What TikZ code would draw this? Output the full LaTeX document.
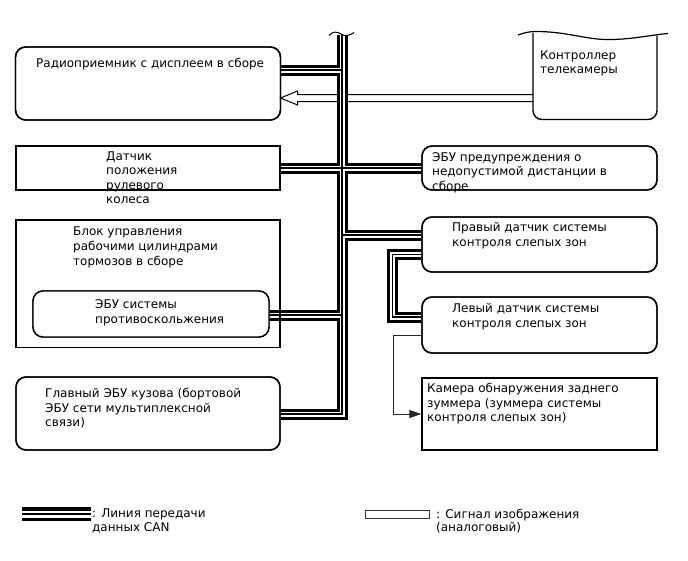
\documentclass[tikz,border=0pt]{standalone}
\usepackage{fontspec}
\setmainfont{DejaVu Sans}
\usetikzlibrary{arrows.meta,calc}
\begin{document}
\begin{tikzpicture}[x=1pt,y=-1pt,
  rbox/.style={draw=black, line width=1.4pt, rounded corners=10pt, inner sep=0pt},
  sbox/.style={draw=black, line width=1.4pt, inner sep=0pt},
  txt/.style={anchor=north west, inner sep=0pt, align=left, font=\fontsize{12}{14.6}\selectfont},
  lgtxt/.style={anchor=north west, inner sep=0pt, align=left, font=\fontsize{12}{13.6}\selectfont},
  thin/.style={draw=black!85, line width=1pt},
  sig/.style={draw=black, line width=1pt, fill=white, line join=miter}
]
\useasboundingbox (0,0) rectangle (688,560);

% ---- boxes (nodes, drawn later) ----
\path
  node[rbox, minimum width=265pt, minimum height=73pt] (radio) at (148,83.5) {}
  node[sbox, minimum width=264pt, minimum height=44pt] (steer) at (148,168) {}
  node[sbox, minimum width=264pt, minimum height=127.5pt] (brake) at (148,283.75) {}
  node[rbox, minimum width=236pt, minimum height=46pt] (abs) at (151,314) {}
  node[rbox, minimum width=264pt, minimum height=73pt] (body) at (148,413.5) {}
  node[rbox, minimum width=235pt, minimum height=44pt] (dist) at (539.5,168) {}
  node[rbox, minimum width=235pt, minimum height=55pt] (rsens) at (539.5,244.5) {}
  node[rbox, minimum width=235pt, minimum height=56pt] (lsens) at (539.5,325) {}
  node[sbox, minimum width=235pt, minimum height=72pt] (cam) at (539.5,414) {};

% ---- coordinates ----
\coordinate (bustop) at (342,35);
\coordinate (busbot) at (342,414);
\coordinate (j1) at (342,70);
\coordinate (j4) at (342,235);
\coordinate (j5) at (342,315);
\coordinate (p1) at (392.5,254.5);
\coordinate (p2) at (392.5,317);
\coordinate (t1) at (393,335);
\coordinate (t2) at (393,414);
\coordinate (sigS) at (533,98);
\coordinate (sigE) at (280.5,98);
\coordinate (lgA) at (22,514);
\coordinate (lgB) at (91,514);
\coordinate (lsA) at (365,514.5);
\coordinate (lsB) at (429,514.5);

% ---- image signal arrow (under the bus) ----
\draw[sig] ($(sigS)+(0,-3.5)$) -- ($(sigE)+(17,-3.5)$) -- ($(sigE)+(17,-7)$) -- (sigE)
  -- ($(sigE)+(17,7)$) -- ($(sigE)+(17,3.5)$) -- ($(sigS)+(0,3.5)$);

% ---- CAN lines ----
\foreach \w/\c in {11/black, 5/white, 1.5/black} {
  \draw[line width=\w pt, draw=\c, line join=miter, line cap=butt]
    (bustop) -- (busbot) -- (body.east |- busbot);
  \draw[line width=\w pt, draw=\c, line cap=butt] (j1) -- (radio.east |- j1);
  \draw[line width=\w pt, draw=\c, line cap=butt] (steer.east) -- (dist.west);
  \draw[line width=\w pt, draw=\c, line cap=butt, line join=miter] (j4) -- (rsens.west |- j4);
  \draw[line width=\w pt, draw=\c, line cap=butt] (j5) -- (abs.east |- j5);
  \draw[line width=\w pt, draw=\c, line cap=butt, line join=miter]
    (rsens.west |- p1) -- (p1) -- (p2) -- (lsens.west |- p2);
}
% break mark on top of bus
\draw[line width=1pt] (329,35.5) .. controls (333,31) and (337,31.5) .. (341,34)
  .. controls (345,36.5) and (349,36) .. (354,32.5);

% ---- boxes drawn on top ----
\path
  node[rbox, minimum width=265pt, minimum height=73pt] at (radio) {}
  node[sbox, minimum width=264pt, minimum height=44pt] at (steer) {}
  node[sbox, minimum width=264pt, minimum height=127.5pt] at (brake) {}
  node[rbox, minimum width=236pt, minimum height=46pt, fill=white] at (abs) {}
  node[rbox, minimum width=264pt, minimum height=73pt] at (body) {}
  node[rbox, minimum width=235pt, minimum height=44pt] at (dist) {}
  node[rbox, minimum width=235pt, minimum height=55pt] at (rsens) {}
  node[rbox, minimum width=235pt, minimum height=56pt] at (lsens) {}
  node[sbox, minimum width=235pt, minimum height=72pt] at (cam) {};

% controller with wavy top
\draw[line width=1.4pt, rounded corners=9pt] (533,32.5) -- (533,119.5) -- (657,119.5) -- (657,35.5);
\draw[line width=1.2pt] (518,35) .. controls (524,33) and (528,31.5) .. (536,31.5)
  .. controls (565,31.5) and (585,39) .. (605,39.5)
  .. controls (630,40) and (650,35) .. (668,33.5);

% thin arrow to camera
\draw[thin, -{Triangle[length=12pt,width=8pt]}] (lsens.west |- t1) -- (t1) -- (t2) -- (cam.west |- t2);

% ---- texts ----
\node[txt] (radiotxt) at (36,57.6) {Радиоприемник с дисплеем в сборе};
\node[txt] (steertxt) at (106,151.1) {Датчик\\положения\\рулевого\\колеса};
\node[txt] (braketxt) at (73,226.9) {Блок управления\\рабочими цилиндрами\\тормозов в сборе};
\node[txt] (abstxt) at (95,299.6) {ЭБУ системы\\противоскольжения};
\node[txt] (bodytxt) at (45,387.9) {Главный ЭБУ кузова (бортовой\\ЭБУ сети мультиплексной\\связи)};
\node[txt] (ctrltxt) at (540,50.1) {Контроллер\\телекамеры};
\node[txt] (disttxt) at (432,152.2) {ЭБУ предупреждения о\\недопустимой дистанции в\\сборе};
\node[txt] (rtxt) at (452,222.2) {Правый датчик системы\\контроля слепых зон};
\node[txt] (ltxt) at (452,303.2) {Левый датчик системы\\контроля слепых зон};
\node[txt] (camtxt) at (427,383.2) {Камера обнаружения заднего\\зуммера (зуммера системы\\контроля слепых зон)};

% ---- legend ----
\foreach \w/\c in {14/black, 7/white, 2.5/black} {
  \draw[line width=\w pt, draw=\c, line cap=butt] (lgA) -- (lgB);
}
\draw[draw=black!80, line width=1pt] ($(lsA)+(0,-4)$) rectangle ($(lsB)+(0,4)$);
\node[lgtxt] (lg1txt) at (92,508.6) {: Линия передачи\\данных CAN};
\node[lgtxt] (lg2txt) at (436,508.6) {: Сигнал изображения\\(аналоговый)};
\end{tikzpicture}
\end{document}
